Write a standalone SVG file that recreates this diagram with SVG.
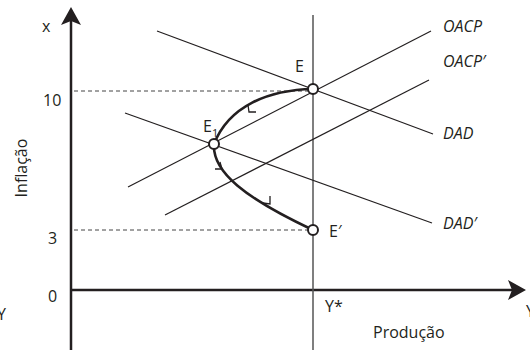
<svg xmlns="http://www.w3.org/2000/svg" width="530" height="350" viewBox="0 0 530 350">
<style>
.t{font-family:"Open Sans","Noto Sans",sans-serif;font-size:16px;fill:#231f20}
.i{font-style:italic}
.ln{stroke:#231f20;stroke-width:1.2;fill:none}
.ax{stroke:#231f20;stroke-width:2.5;fill:none}
.dash{stroke:#444;stroke-width:1;stroke-dasharray:4 3;fill:none}
.cv{stroke:#231f20;stroke-width:2.6;fill:none}
.tick{stroke:#231f20;stroke-width:1.3;fill:none}
.pt{fill:#fff;stroke:#231f20;stroke-width:2}
</style>
<g id="axes">
<line class="ax" x1="71" y1="20" x2="71" y2="350"/>
<polygon points="71,7 81,25 71,21 61,25" fill="#231f20"/>
<line class="ax" x1="71" y1="290" x2="512" y2="290"/>
<polygon points="526,290 508,300 512,290 508,280" fill="#231f20"/>
<line x1="313" y1="15" x2="313" y2="350" stroke="#555" stroke-width="1.5"/>
<line class="dash" x1="74" y1="91" x2="308" y2="91"/>
<line class="dash" x1="74" y1="230" x2="308" y2="230"/>
</g>
<g id="connectors">
<line id="OACP-line" class="ln" x1="128" y1="187" x2="431" y2="31"/>
<line id="OACP2-line" class="ln" x1="165" y1="215" x2="429" y2="80"/>
<line id="DAD-line" class="ln" x1="157" y1="31" x2="433" y2="134"/>
<line id="DAD2-line" class="ln" x1="125" y1="113" x2="432" y2="223"/>
<path class="cv" d="M313,89 C268,90 229,106 214,144 C212,172 245,198 313,230"/>
<polyline class="tick" points="248,105 249,112 256,112"/>
<polyline class="tick" points="220,162 222,169 215,169"/>
<polyline class="tick" points="270,196 270,204 263,203"/>
</g>
<g id="E"><circle class="pt" cx="313" cy="89" r="5"/><text class="t" x="295" y="72">E</text></g>
<g id="E1"><circle class="pt" cx="214" cy="144" r="5"/><text class="t" x="203" y="132">E</text><text class="t" x="212" y="137" style="font-size:11px">1</text></g>
<g id="E2"><circle class="pt" cx="313" cy="230" r="5"/><text class="t" x="329" y="237">E′</text></g>
<g id="labels">
<text class="t i" x="443" y="32">OACP</text>
<text class="t i" x="443" y="67">OACP′</text>
<text class="t i" x="443" y="139">DAD</text>
<text class="t i" x="443" y="229">DAD′</text>
<text class="t" x="42" y="32">x</text>
<text class="t" x="43" y="106">10</text>
<text class="t" x="48" y="244">3</text>
<text class="t" x="48" y="302">0</text>
<text class="t" x="325" y="312">Y*</text>
<text class="t" x="373" y="338">Produção</text>
<text class="t" x="526" y="317">Y</text>
<text class="t" x="-3" y="320">Y</text>
<text class="t" transform="translate(27,168) rotate(-90)" text-anchor="middle">Inflação</text>
</g>
</svg>
